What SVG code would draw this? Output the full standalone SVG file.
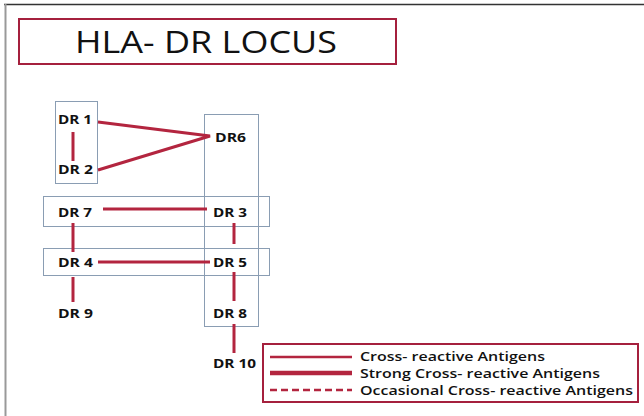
<svg xmlns="http://www.w3.org/2000/svg" width="644" height="416" viewBox="0 0 644 416">
<style>
.lbl{font-family:"Open Sans","Liberation Sans",sans-serif;font-weight:bold;font-size:12.5px;fill:#111}
.leg{font-family:"Open Sans","Liberation Sans",sans-serif;font-weight:600;font-size:12.5px;fill:#111}
.grp{fill:none;stroke:#8a9db3;stroke-width:1}
.con{stroke:#b3253f;stroke-width:3;fill:none;stroke-linecap:butt}
</style>
<rect width="644" height="416" fill="#fff"/>
<line x1="4" y1="4.5" x2="644" y2="4.5" stroke="#333" stroke-width="1.5"/>
<line x1="5.5" y1="4" x2="5.5" y2="416" stroke="#999" stroke-width="2"/>
<g id="title">
<rect x="19" y="19" width="377" height="45" fill="#fff" stroke="#a5203d" stroke-width="2"/>
<text x="75" y="53" font-family="'Open Sans','Liberation Sans',sans-serif" font-size="31" fill="#111" textLength="262" lengthAdjust="spacingAndGlyphs">HLA- DR LOCUS</text>
</g>
<g id="groups">
<rect class="grp" x="55.5" y="101.5" width="42" height="82"/>
<rect class="grp" x="204.5" y="114.5" width="54" height="212"/>
<rect class="grp" x="43.5" y="196.5" width="226" height="30"/>
<rect class="grp" x="43.5" y="248.5" width="226" height="27"/>
</g>
<g id="connectors">
<line class="con" x1="73" y1="132" x2="73" y2="161"/>
<polyline class="con" points="98,122 210,136 98,170"/>
<line class="con" x1="103" y1="209" x2="207" y2="209"/>
<line class="con" x1="73" y1="223" x2="73" y2="252"/>
<line class="con" x1="234" y1="223" x2="234" y2="244"/>
<line class="con" x1="98" y1="262" x2="210" y2="262"/>
<line class="con" x1="73" y1="277" x2="73" y2="302"/>
<line class="con" x1="234" y1="272" x2="234" y2="301"/>
<line class="con" x1="234" y1="324" x2="234" y2="353"/>
</g>
<g id="dr1"><text class="lbl" x="58" y="124" textLength="34" lengthAdjust="spacingAndGlyphs">DR 1</text></g>
<g id="dr2"><text class="lbl" x="58" y="174" textLength="35" lengthAdjust="spacingAndGlyphs">DR 2</text></g>
<g id="dr6"><text class="lbl" x="215" y="142" textLength="31" lengthAdjust="spacingAndGlyphs">DR6</text></g>
<g id="dr7"><text class="lbl" x="58" y="217" textLength="34" lengthAdjust="spacingAndGlyphs">DR 7</text></g>
<g id="dr3"><text class="lbl" x="213" y="217" textLength="34" lengthAdjust="spacingAndGlyphs">DR 3</text></g>
<g id="dr4"><text class="lbl" x="58" y="267" textLength="35" lengthAdjust="spacingAndGlyphs">DR 4</text></g>
<g id="dr5"><text class="lbl" x="213" y="267" textLength="34" lengthAdjust="spacingAndGlyphs">DR 5</text></g>
<g id="dr9"><text class="lbl" x="58" y="318" textLength="35" lengthAdjust="spacingAndGlyphs">DR 9</text></g>
<g id="dr8"><text class="lbl" x="213" y="318" textLength="34" lengthAdjust="spacingAndGlyphs">DR 8</text></g>
<g id="dr10"><text class="lbl" x="213" y="368" textLength="43" lengthAdjust="spacingAndGlyphs">DR 10</text></g>
<g id="legend">
<rect x="263" y="344" width="375" height="58" fill="#fff" stroke="#a5203d" stroke-width="2"/>
<line x1="270" y1="357" x2="352" y2="357" stroke="#b3253f" stroke-width="2.5"/>
<line x1="270" y1="373" x2="352" y2="373" stroke="#b3253f" stroke-width="4.5"/>
<line x1="270" y1="390" x2="352" y2="390" stroke="#b3253f" stroke-width="2.5" stroke-dasharray="7,4"/>
<text class="leg" x="360" y="361" textLength="185" lengthAdjust="spacingAndGlyphs">Cross- reactive Antigens</text>
<text class="leg" x="360" y="378" textLength="240" lengthAdjust="spacingAndGlyphs">Strong Cross- reactive Antigens</text>
<text class="leg" x="360" y="395" textLength="273" lengthAdjust="spacingAndGlyphs">Occasional Cross- reactive Antigens</text>
</g>
</svg>
